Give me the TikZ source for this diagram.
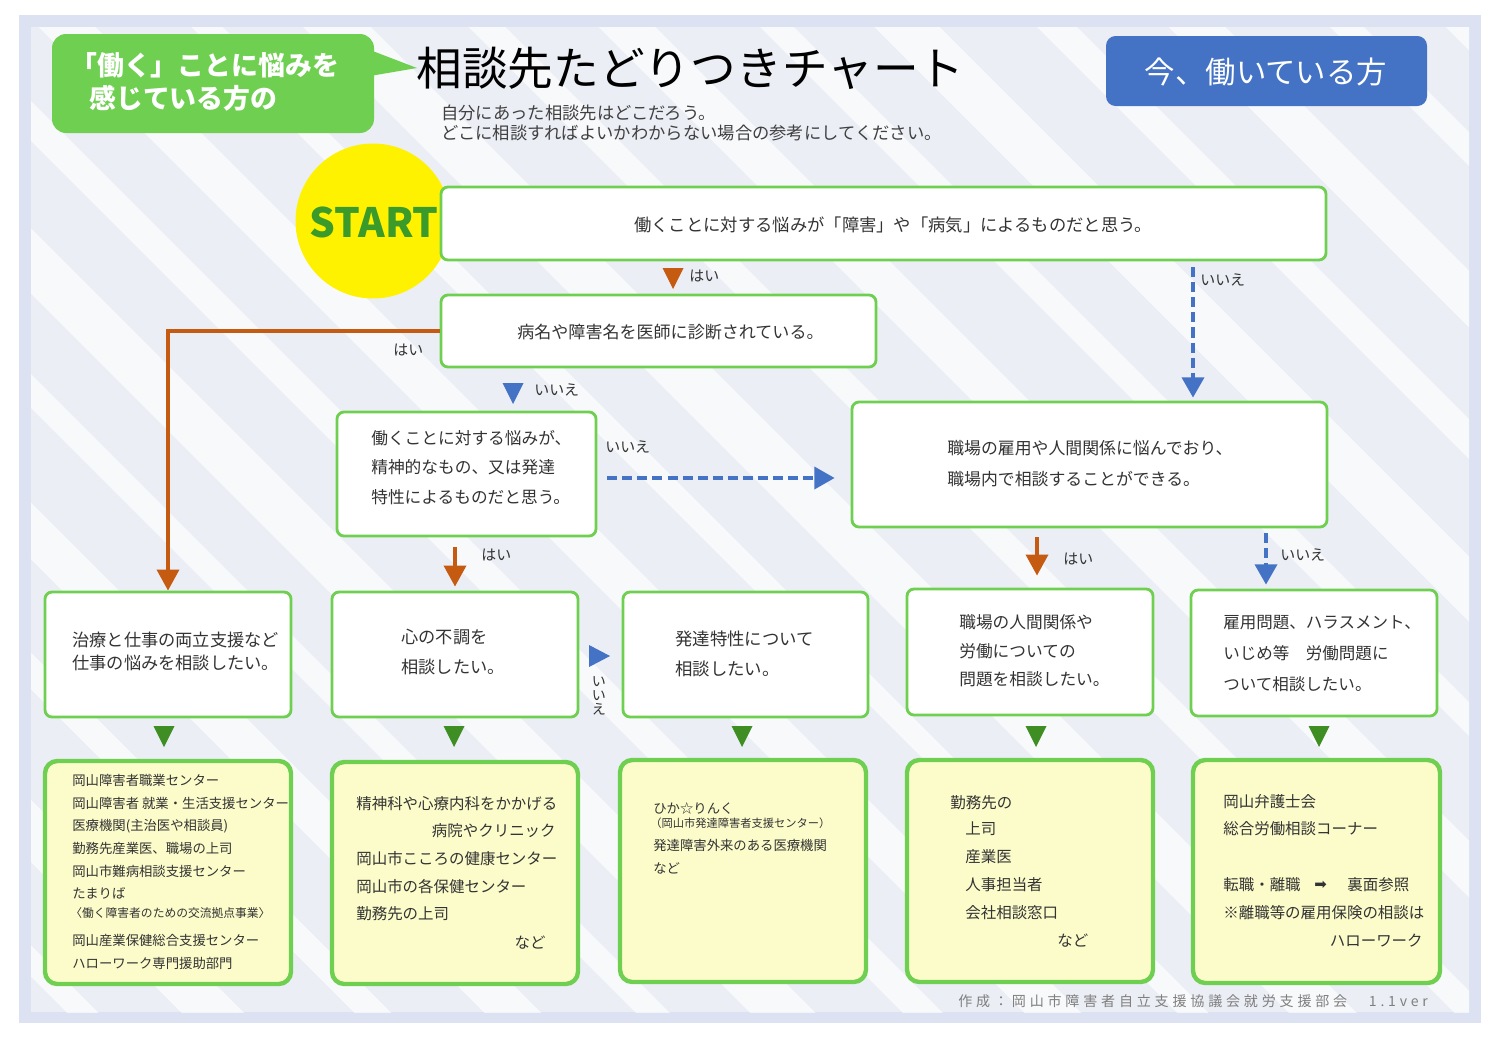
\documentclass[tikz,border=0pt]{standalone}
\usepackage{fontspec}
\setmainfont{Noto Sans CJK JP}
\newfontfamily\footfont[LetterSpace=27]{Noto Sans CJK JP}
\newfontfamily\symfont{DejaVu Sans}
\usetikzlibrary{arrows.meta,fit}
\definecolor{framec}{HTML}{DCE2F2}
\definecolor{bgc}{HTML}{EBEEF5}
\definecolor{grn}{HTML}{6FCF50}
\definecolor{dgrn}{HTML}{3E8E24}
\definecolor{brn}{HTML}{C55A11}
\definecolor{blu}{HTML}{4472C4}
\definecolor{ylw}{HTML}{FCFCCB}
\definecolor{txt}{HTML}{333333}
\definecolor{subg}{HTML}{404040}
\definecolor{footg}{HTML}{7F7F7F}
\definecolor{startg}{HTML}{3A9A2A}
\newcommand\fsz[1]{\fontsize{#1}{#1}\selectfont}
\begin{document}
\begin{tikzpicture}[x=0.02cm,y=-0.02cm,
  qbox/.style={draw=grn, line width=1.6pt, fill=white, rounded corners=4pt, inner sep=0pt},
  abox/.style={draw=grn, line width=2.5pt, fill=ylw, rounded corners=7pt, inner sep=0pt},
  t/.style={anchor=west, inner sep=0pt, text=txt},
  lbl/.style={anchor=west, inner sep=0pt, text=txt, font=\fsz{8.5}},
  brnarrow/.style={draw=brn, line width=2.2pt, -{Triangle[length=12pt,width=12.5pt]}},
  bludash/.style={draw=blu, line width=2.1pt, dash pattern=on 5.7pt off 2.85pt, -{Triangle[length=11.5pt,width=12.5pt]}},
  tridn/.pic={\fill (-10.5,0) -- (10.5,0) -- (0,21) -- cycle;},
  trirt/.pic={\fill (0,-11) -- (0,11) -- (21,0) -- cycle;}]
\useasboundingbox (0,0) rectangle (1500,1038);
\fill[white] (0,0) rectangle (1500,1038);
\fill[framec] (19,15) rectangle (1481,1023);
\fill[bgc] (31,27) rectangle (1469,1012);
\begin{scope}
  \clip (31,27) rectangle (1469,1012);
  \foreach \s/\w in {-1080/30,-930/22,-800/44,-640/26,-500/40,-360/24,-230/46,-90/28,40/40,180/22,310/48,460/26,600/40,750/24,880/46,1030/28,1170/40,1320/24,1450/44}
    \draw[white, opacity=0.65, line width=\w*0.569pt] (\s,0) -- ++(1100,1100);
\end{scope}

% header
\node[fill=grn, rounded corners=8pt, inner sep=0pt, fit={(52,34) (374,133)}] (callout) {};
\fill[grn] (370,50) -- (417,68) -- (370,76) -- cycle;
\node[anchor=west, inner sep=0pt, text=white, font=\bfseries\fsz{15.3}] (cl1) at (70,65) {「働く」ことに悩みを};
\node[anchor=west, inner sep=0pt, text=white, font=\bfseries\fsz{15.3}] (cl2) at (89,98) {感じている方の};
\node[anchor=west, inner sep=0pt, text=black, font=\fsz{26}] (title) at (416,68) {相談先たどりつきチャート};
\node[anchor=west, inner sep=0pt, text=subg, font=\fsz{9.85}] (sub1) at (441,113) {自分にあった相談先はどこだろう。};
\node[anchor=west, inner sep=0pt, text=subg, font=\fsz{9.85}] (sub2) at (441,133) {どこに相談すればよいかわからない場合の参考にしてください。};
\node[fill=blu, rounded corners=5.5pt, inner sep=0pt, fit={(1106,36) (1427,106)}] (now) {};
\node[inner sep=0pt, text=white, font=\fsz{17.3}] (nowt) at (1266,72) {今、働いている方};

% start
\node[circle, fill=yellow, minimum size=3.1cm, inner sep=0pt] (start) at (373,221) {};
\node[inner sep=0pt, text=startg, font=\bfseries\fsz{23}] (startt) at (374,222) {START};

% question boxes
\node[qbox, fit={(441,187) (1326,260)}] (b1) {};
\node[t, font=\fsz{9.85}] (b1t) at (634,225) {働くことに対する悩みが「障害」や「病気」によるものだと思う。};
\node[qbox, fit={(441,295) (876,367)}] (b2) {};
\node[t, font=\fsz{9.7}] (b2t) at (517,332) {病名や障害名を医師に診断されている。};
\node[qbox, fit={(337,412) (596,536)}] (b3) {};
\node[t, font=\fsz{9.5}] (b3t1) at (371,438) {働くことに対する悩みが、};
\node[t, font=\fsz{9.5}] (b3t2) at (371,467) {精神的なもの、又は発達};
\node[t, font=\fsz{9.5}] (b3t3) at (371,497) {特性によるものだと思う。};
\node[qbox, fit={(852,402) (1327,527)}] (b4) {};
\node[t, font=\fsz{9.6}] (b4t1) at (947,448) {職場の雇用や人間関係に悩んでおり、};
\node[t, font=\fsz{9.6}] (b4t2) at (947,479) {職場内で相談することができる。};

% row 3
\node[qbox, fit={(45,592) (291,717)}] (A) {};
\node[t, font=\fsz{9.8}] (At1) at (72,640) {治療と仕事の両立支援など};
\node[t, font=\fsz{9.8}] (At2) at (72,663) {仕事の悩みを相談したい。};
\node[qbox, fit={(332,592) (578,717)}] (B) {};
\node[t, font=\fsz{9.8}] (Bt1) at (401,637) {心の不調を};
\node[t, font=\fsz{9.8}] (Bt2) at (401,667) {相談したい。};
\node[qbox, fit={(623,592) (868,717)}] (C) {};
\node[t, font=\fsz{9.9}] (Ct1) at (675,639) {発達特性について};
\node[t, font=\fsz{9.9}] (Ct2) at (675,669) {相談したい。};
\node[qbox, fit={(907,589) (1153,715)}] (D) {};
\node[t, font=\fsz{9.5}] (Dt1) at (959,622) {職場の人間関係や};
\node[t, font=\fsz{9.5}] (Dt2) at (959,651) {労働についての};
\node[t, font=\fsz{9.5}] (Dt3) at (959,679) {問題を相談したい。};
\node[qbox, fit={(1191,590) (1437,716)}] (E) {};
\node[t, font=\fsz{9.4}] (Et1) at (1223,623) {雇用問題、ハラスメント、};
\node[t, font=\fsz{9.4}] (Et2) at (1223,653) {いじめ等　労働問題に};
\node[t, font=\fsz{9.4}] (Et3) at (1223,684) {ついて相談したい。};

% row 4
\node[abox, fit={(45,761) (291,984)}] (RA) {};
\foreach \tx/\yy [count=\i] in {岡山障害者職業センター/780, 岡山障害者 就業・生活支援センター/803, 医療機関(主治医や相談員)/826, 勤務先産業医、職場の上司/848, 岡山市難病相談支援センター/871, たまりば/893, 岡山産業保健総合支援センター/940, ハローワーク専門援助部門/963}
  \node[t, font=\fsz{7.6}] (ra\i) at (72,\yy) {\tx};
\node[t, font=\fsz{6.7}] (ra9) at (70,913) {〈働く障害者のための交流拠点事業〉};

\node[abox, fit={(332,762) (578,984)}] (RB) {};
\node[t, font=\fsz{8.8}] (rb1) at (356,804) {精神科や心療内科をかかげる};
\node[t, anchor=east, font=\fsz{8.8}] (rb2) at (556,831) {病院やクリニック};
\node[t, font=\fsz{8.8}] (rb3) at (356,859) {岡山市こころの健康センター};
\node[t, font=\fsz{8.8}] (rb4) at (356,887) {岡山市の各保健センター};
\node[t, font=\fsz{8.8}] (rb5) at (356,914) {勤務先の上司};
\node[t, anchor=east, font=\fsz{8.8}] (rb6) at (546,943) {など};

\node[abox, fit={(620,760) (866,982)}] (RC) {};
\node[t, font=\fsz{7.6}] (rc1) at (653,808) {ひか☆りんく};
\node[t, font=\fsz{6.4}] (rc2) at (650,823) {（岡山市発達障害者支援センター）};
\node[t, font=\fsz{7.6}] (rc3) at (653,845) {発達障害外来のある医療機関};
\node[t, font=\fsz{7.6}] (rc4) at (653,868) {など};

\node[abox, fit={(907,760) (1153,982)}] (RD) {};
\node[t, font=\fsz{8.8}] (rd1) at (950,803) {勤務先の};
\node[t, font=\fsz{8.8}] (rd2) at (965,829) {上司};
\node[t, font=\fsz{8.8}] (rd3) at (965,857) {産業医};
\node[t, font=\fsz{8.8}] (rd4) at (965,885) {人事担当者};
\node[t, font=\fsz{8.8}] (rd5) at (965,913) {会社相談窓口};
\node[t, font=\fsz{8.8}] (rd6) at (1057,941) {など};

\node[abox, fit={(1193,760) (1440,983)}] (RE) {};
\node[t, font=\fsz{8.8}] (re1) at (1223,802) {岡山弁護士会};
\node[t, font=\fsz{8.8}] (re2) at (1223,829) {総合労働相談コーナー};
\node[t, font=\fsz{8.8}] (re3) at (1223,885) {転職・離職};
\node[t, font=\symfont\fsz{8.5}] (re4) at (1314,885) {➡};
\node[t, font=\fsz{8.8}] (re5) at (1347,885) {裏面参照};
\node[t, font=\fsz{8.8}] (re6) at (1223,913) {※離職等の雇用保険の相談は};
\node[t, anchor=east, font=\fsz{8.8}] (re7) at (1423,941) {ハローワーク};

% footer
\node[anchor=west, inner sep=0pt, text=footg, font=\footfont\fsz{8}] (foot) at (958,1001) {作成：岡山市障害者自立支援協議会就労支援部会　1.1ver};

% connectors
\coordinate (colD) at (1037,0);
\coordinate (colR) at (1193,0);
\coordinate (colE) at (1266,0);
\coordinate (rowM) at (0,478);
\draw[brnarrow] (b2.west) -| (A.north);
\draw[brnarrow, shorten <=0.2cm, shorten >=0.08cm] (b3.south -| B.north) -- (B.north);
\draw[brnarrow, shorten <=0.18cm, shorten >=0.24cm] (b4.south -| colD) -- (D.north -| colD);
\draw[bludash, shorten <=0.12cm, shorten >=0.06cm] (b1.south -| colR) -- (b4.north -| colR);
\draw[bludash, shorten <=0.2cm, shorten >=0.32cm] (b3.east |- rowM) -- (b4.west |- rowM);
\draw[bludash, shorten <=0.1cm, shorten >=0.08cm] (b4.south -| colE) -- (E.north -| colE);

% markers
\pic[color=brn] at (673,268) {tridn};
\pic[color=blu] at (513,383) {tridn};
\pic[color=blu] at (589,656) {trirt};
\pic[color=dgrn] at (164,726) {tridn};
\pic[color=dgrn] at (454,726) {tridn};
\pic[color=dgrn] at (742,726) {tridn};
\pic[color=dgrn] at (1036,726) {tridn};
\pic[color=dgrn] at (1319,726) {tridn};

% labels
\node[lbl] (l1) at (689,276) {はい};
\node[lbl] (l2) at (1200,280) {いいえ};
\node[lbl] (l3) at (393,350) {はい};
\node[lbl] (l4) at (534,390) {いいえ};
\node[lbl] (l5) at (605,447) {いいえ};
\node[lbl] (l6) at (481,555) {はい};
\node[lbl] (l7) at (1063,559) {はい};
\node[lbl] (l8) at (1280,555) {いいえ};
\node[inner sep=0pt, text=txt, font=\fontsize{8}{8}\selectfont, align=center] (l9) at (599,696) {い\\い\\え};
\end{tikzpicture}
\end{document}
